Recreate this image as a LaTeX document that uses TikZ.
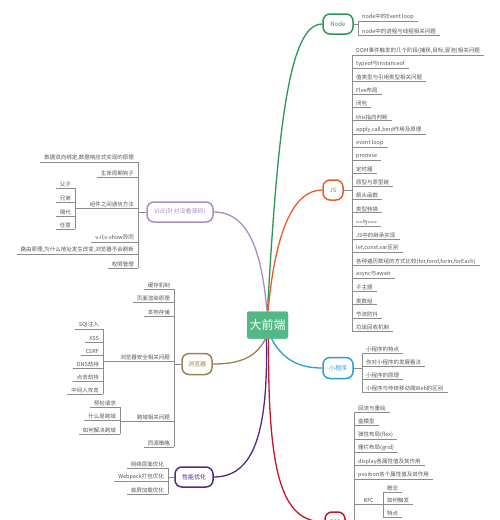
\documentclass[tikz,border=0pt]{standalone}
\usepackage{fontspec}
\setmainfont{Noto Sans CJK SC}
\definecolor{lcol}{RGB}{140,140,140}
\definecolor{tcol}{RGB}{85,85,85}
\definecolor{rootfill}{RGB}{82,184,134}
\definecolor{cnode}{RGB}{42,150,90}
\definecolor{cjs}{RGB}{232,92,42}
\definecolor{cmp}{RGB}{40,160,210}
\definecolor{ccss}{RGB}{200,20,40}
\definecolor{cvue}{RGB}{170,140,200}
\definecolor{cbr}{RGB}{155,130,80}
\definecolor{cperf}{RGB}{85,40,140}
\newcommand\chfont{\fontsize{5.5}{6}\selectfont}
\newcommand\brfont{\fontsize{6}{7}\selectfont}
\tikzset{
  ln/.style={draw=lcol, line width=0.6pt},
  rchild/.style={anchor=south west, inner xsep=4pt, inner ysep=1pt, text=tcol, font=\chfont,
    append after command={(\tikzlastnode.south west) edge[ln] (\tikzlastnode.south east)}},
  lchild/.style={anchor=south east, inner xsep=4pt, inner ysep=1pt, text=tcol, font=\chfont,
    append after command={(\tikzlastnode.south west) edge[ln] (\tikzlastnode.south east)}},
  branch/.style={draw=#1, text=#1, fill=white, line width=1.5pt, rounded corners=7pt, font=\brfont, inner sep=0pt, minimum height=20pt},
  conn/.style={draw=#1, line width=1.3pt},
}
\begin{document}
\begin{tikzpicture}[x=1pt,y=-1pt]
\useasboundingbox (0,0) rectangle (500,520);
\clip (0,0) rectangle (500,520);
\fill[white] (0,0) rectangle (500,520);

% root
\node[fill=rootfill, text=white, rounded corners=2pt, minimum width=41pt, minimum height=27pt, inner sep=0pt, font=\fontsize{12}{13}\selectfont] (root) at (267.5,325) {大前端};

% branches
\node[branch=cnode, minimum width=30pt] (nd) at (338,24) {Node};
\node[branch=cjs, minimum width=20pt] (js) at (333,190) {JS};
\node[branch=cmp, minimum width=30pt, minimum height=21pt] (mp) at (338,368) {小程序};
\node[branch=ccss, minimum width=20pt] (css) at (335,522) {CSS};
\node[branch=cvue, minimum width=66pt] (vue) at (180,212) {VUE(针对没看源码)};
\node[branch=cbr, minimum width=30pt, minimum height=21pt] (br) at (197,364) {浏览器};
\node[branch=cperf, minimum width=38pt] (pf) at (194,477) {性能优化};

% main connectors
\begin{scope}[on background layer/.style={}]
\end{scope}
\draw[conn=cnode] (root.north) .. controls (278,120) and (290,24) .. (nd.west);
\draw[conn=cjs] ([xshift=0.5pt]root.north) .. controls (275,235) and (292,190) .. (js.west);
\draw[conn=cvue] ([xshift=-0.5pt]root.north) .. controls (262,255) and (250,212) .. (vue.east);
\draw[conn=cbr] ([xshift=-2pt]root.south) .. controls (255,360) and (235,364) .. (br.east);
\draw[conn=cmp] ([xshift=4pt]root.south) .. controls (285,364) and (305,368) .. (mp.west);
\draw[conn=cperf] ([xshift=-1pt]root.south) .. controls (268,430) and (255,477) .. (pf.east);
\draw[conn=ccss] ([xshift=1pt]root.south) .. controls (268,470) and (280,522) .. (css.west);
\node[fill=rootfill, text=white, rounded corners=2pt, minimum width=41pt, minimum height=27pt, inner sep=0pt, font=\fontsize{12}{13}\selectfont] at (root) {大前端};

% Node children
\node[rchild] (n0) at (358,21) {node中的Event loop};
\node[rchild] (n1) at (358,35) {node中的进程与线程相关问题};
\draw[ln] (n0.south west) -- (n1.south west);
\draw[ln] (nd.east) -- (nd.east -| n0.south west);

% JS children
\foreach \t [count=\i from 0] in {{DOM事件触发的几个阶段(捕获,目标,冒泡)相关问题},{typeof与instanceof},{值类型与引用类型相关问题},{Flex布局},{闭包},{this指向判断},{apply,call,bind作用及原理},{event loop},{promise},{定时器},{原型与原型链},{箭头函数},{类型转换},{==与===},{JS中的继承实现},{let,const,var区别},{各种遍历数组的方式比较(for,forof,forin,forEach)},{async与await},{子主题},{类数组},{节流防抖},{垃圾回收机制}}
  \node[rchild] (j\i) at (352,55+13.143*\i) {\t};
\draw[ln] (j0.south west) -- (j21.south west);
\draw[ln] (js.east) -- (js.east -| j0.south west);

% 小程序 children
\node[rchild] (m0) at (362,353) {小程序的特点};
\node[rchild] (m1) at (362,366) {你对小程序的发展看法};
\node[rchild] (m2) at (362,379) {小程序的原理};
\node[rchild] (m3) at (362,392) {小程序与传统移动端Web的区别};
\draw[ln] (m0.south west) -- (m3.south west);
\draw[ln] (mp.east) -- (mp.east -| m0.south west);

% CSS children
\node[rchild] (c0) at (354,412) {回流与重绘};
\node[rchild] (c1) at (354,425.5) {盒模型};
\node[rchild] (c2) at (354,439) {弹性布局(flex)};
\node[rchild] (c3) at (354,452) {栅栏布局(grid)};
\node[rchild] (c4) at (354,465.5) {display各属性值及其作用};
\node[rchild] (c5) at (354,479) {position各个属性值及其作用};
\node[rchild, minimum width=29pt] (bfc) at (354,504) {BFC};
\node[rchild] (b0) at (383,492) {概念};
\node[rchild] (b1) at (383,504.5) {如何触发};
\node[rchild] (b2) at (383,517) {特点};
\draw[ln] (b0.south west) -- (b2.south west);
\coordinate (cssend) at (354,540);
\draw[ln] (c0.south west) -- (cssend);
\draw[ln] (css.east) -- (css.east -| c0.south west);

% VUE children
\node[lchild] (v0) at (138,162) {数据双向绑定,数据响应式实现的原理};
\node[lchild] (v1) at (138,177) {生命周期钩子};
\node[lchild] (v2) at (138,208) {组件之间通信方法};
\node[lchild] (v3) at (138,242) {v-if,v-show异同};
\node[lchild] (v4) at (138,254) {路由原理,为什么地址发生改变,浏览器不会刷新};
\node[lchild] (v5) at (138,268) {权限管理};
\node[lchild] (s0) at (75,188) {父子};
\node[lchild] (s1) at (75,202) {兄弟};
\node[lchild] (s2) at (75,216) {隔代};
\node[lchild] (s3) at (75,229) {任意};
\draw[ln] (s0.south east) -- (s3.south east);
\draw[ln] (v2.south west) -- (v2.south west -| s0.south east);
\draw[ln] (v0.south east) -- (v5.south east);
\draw[ln] (vue.west) -- (vue.west -| v0.south east);

% 浏览器 children
\node[lchild] (w0) at (174,289) {缓存机制};
\node[lchild] (w1) at (174,302) {页面渲染原理};
\node[lchild] (w2) at (174,316) {本地存储};
\node[lchild] (w3) at (174,361) {浏览器安全相关问题};
\node[lchild] (w4) at (174,421) {跨域相关问题};
\node[lchild] (w5) at (174,447) {同源策略};
\node[lchild] (q0) at (103,329) {SQl注入};
\node[lchild] (q1) at (103,342) {XSS};
\node[lchild] (q2) at (103,355) {CSRF};
\node[lchild] (q3) at (103,368) {DNS劫持};
\node[lchild] (q4) at (103,381) {点击劫持};
\node[lchild] (q5) at (103,394) {中间人攻击};
\draw[ln] (q0.south east) -- (q5.south east);
\draw[ln] (w3.south west) -- (w3.south west -| q0.south east);
\node[lchild] (k0) at (120,407) {预检请求};
\node[lchild] (k1) at (120,420.5) {什么是跨域};
\node[lchild] (k2) at (120,434) {如何解决跨域};
\draw[ln] (k0.south east) -- (k2.south east);
\draw[ln] (w4.south west) -- (w4.south west -| k0.south east);
\draw[ln] (w0.south east) -- (w5.south east);
\draw[ln] (br.west) -- (br.west -| w0.south east);

% 性能优化 children
\node[lchild] (p0) at (168,468) {网络层面优化};
\node[lchild] (p1) at (168,481) {Webpack打包优化};
\node[lchild] (p2) at (168,494) {首屏加载优化};
\draw[ln] (p0.south east) -- (p2.south east);
\draw[ln] (pf.west) -- (pf.west -| p0.south east);
\end{tikzpicture}
\end{document}
